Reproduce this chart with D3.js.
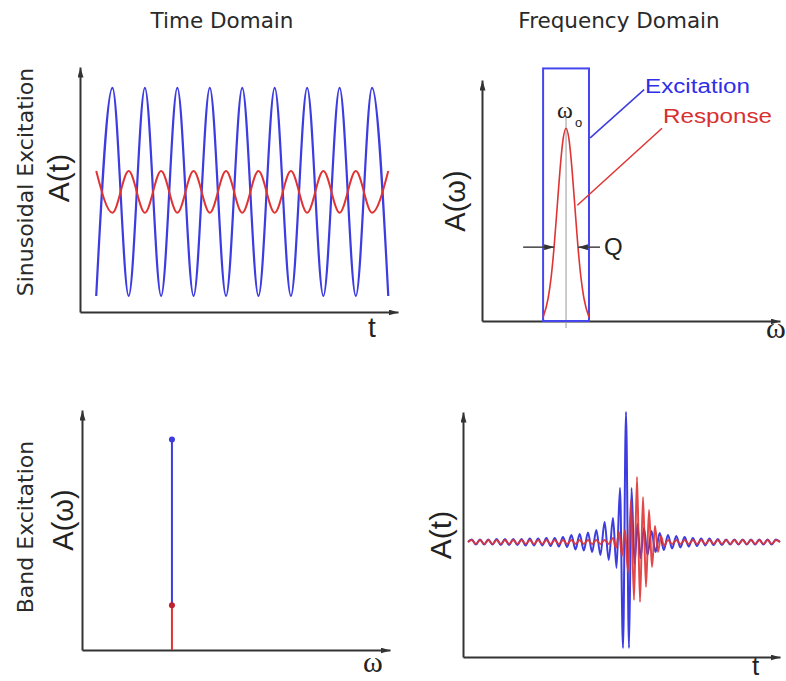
<!DOCTYPE html>
<html>
<head>
<meta charset="utf-8">
<script src="https://cdn.jsdelivr.net/npm/d3@7"></script>
<style>
  body { margin: 0; background: #fff; }
  svg { display: block; }
</style>
</head>
<body>
<script>
// ---- time domain, sinusoidal excitation (extrema)
var sineT    = [0.5, 1, 1.5, 2, 2.5, 3, 3.5, 4, 4.5, 5, 5.5, 6, 6.5, 7, 7.5, 8, 8.5, 9, 9.5];
var sineExc  = [-1, 1, -1, 1, -1, 1, -1, 1, -1, 1, -1, 1, -1, 1, -1, 1, -1, 1, -1];
var sineResp = [0.2, -0.2, 0.2, -0.2, 0.2, -0.2, 0.2, -0.2, 0.2, -0.2, 0.2, -0.2, 0.2, -0.2, 0.2, -0.2, 0.2, -0.2, 0.2];

// ---- frequency domain, sinusoidal excitation
var specOmega = [20.5, 22.2, 23.2, 24.2, 25.2, 26.2, 27.2, 28.2, 29.2, 30.2, 31.2, 32.2, 33.2, 34.2, 35.9];
var specResp  = [0.02, 0.118, 0.226, 0.386, 0.586, 0.788, 0.942, 1, 0.942, 0.788, 0.586, 0.386, 0.226, 0.118, 0.02];
var bandEdges = [20.5, 35.9];
var bandLevel = 1.31;
var omega0 = 28.2;
var qLevel = 0.383;
var qArrowLeft = [13.8, 24.2];
var qArrowRight = [39.6, 32.2];

// ---- band excitation, spectrum
var lineOmega = 29.2;
var lineExc = 1.0;
var lineResp = 0.213;

// ---- band excitation, time response (extrema)
var burstExcT = [5, 8.7, 12.9, 17, 21.2, 25.3, 29.5, 33.6, 37.8, 41.9, 46.1, 50.2, 54.4, 58.5, 62.7, 66.8,
  71, 75.1, 79.3, 83.4, 87.6, 91.7, 95.9, 100, 104.1, 108.4, 112.5, 116.7, 120.8, 125, 129.1, 133.3,
  137.4, 141.6, 145.7, 150, 153.5, 157, 160, 163, 166, 168.5, 171.5, 174.5, 177.5, 181, 184.5, 188.5,
  192.5, 196.7, 200.8, 205, 209.1, 213.3, 217.4, 221.6, 225.7, 229.9, 234, 238.2, 242.3, 246.5, 250.6,
  254.8, 258.9, 263.1, 267.2, 271.4, 275.5, 279.7, 283.8, 288, 292.1, 296.3, 300.4, 304.6, 308.7, 312.9, 317];
var burstExcA = [0, 2.5, -2.5, 2.5, -2.5, 2.5, -2.5, 3, -3, 3, -3, 3, -3, 3, -3.5, 3.5,
  -3.5, 3.5, -3.5, 4, -4, 4, -4.5, 5, -5, 7, -7.5, 8, -8.5, 9.5, -10, 12,
  -13, 20, -18, 24, -26, 54, -106, 130, -106, 54, -22, 18, -16, 14, -13, 11,
  -10, 9, -8, 7, -6.5, 6, -5.5, 5, -4.5, 4, -4, 3.5, -3.5, 3.5, -3,
  3, -3, 2.5, -2.5, 2.5, -2.5, 2.5, -2.5, 2.5, -2.5, 2.5, -2.5, 2.5, -2.5, 2.5, 0];
var burstRespT = [5, 8.7, 12.9, 17, 21.2, 25.3, 29.5, 33.6, 37.8, 41.9, 46.1, 50.2, 54.4, 58.5, 62.7, 66.8,
  71, 75.1, 79.3, 83.4, 87.6, 91.7, 95.9, 100, 104.1, 108.4, 112.5, 116.7, 120.8, 125, 129.1, 133.3,
  137.4, 141.6, 145.7, 150, 153, 156, 159, 162, 165, 168, 171, 174, 177, 180, 183, 186, 189, 192,
  195, 198, 201, 205, 209.1, 213.3, 217.4, 221.6, 225.7, 229.9, 234, 238.2, 242.3, 246.5, 250.6,
  254.8, 258.9, 263.1, 267.2, 271.4, 275.5, 279.7, 283.8, 288, 292.1, 296.3, 300.4, 304.6, 308.7, 312.9, 317];
var burstRespA = [0, 2, -2, 2, -2, 2, -2, 2, -2, 2, -2, 2, -2, 2, -2, 2,
  -2, 2, -2, 2, -2, 2, -2, 2, -2, 2, -2, 2, -2, 2, -2, 2,
  -2, 2, -2, 4, -6, 10, -14, 12, -30, 42, -58, 65, -60, 45, -45, 32, -25, 16,
  -10, 6, -4, 2, -2, 2, -2, 2, -2, 2, -2, 2, -2, 2, -2,
  2, -2, 2, -2, 2, -2, 2, -2, 2, -2, 2, -2, 2, -2, 2, 0];

var w = 786, h = 681;
var blue = "#3c3ce0", red = "#e03434", axis_color = "#333";
var sans = "'Liberation Sans', Arial, sans-serif";
var dejavu = "'DejaVu Sans', Verdana, sans-serif";
var serif = "'Liberation Serif', 'Times New Roman', serif";

var svg = d3.select("body").append("svg")
  .attr("width", w)
  .attr("height", h);

svg.append("defs").append("marker")
  .attr("id", "arrow")
  .attr("viewBox", "0 0 10 6")
  .attr("refX", 10).attr("refY", 3)
  .attr("markerWidth", 10).attr("markerHeight", 6)
  .attr("markerUnits", "userSpaceOnUse")
  .attr("orient", "auto")
  .append("path")
  .attr("d", "M0,0L10,3L0,6Z")
  .attr("fill", axis_color);

function zip(xs, ys) { return xs.map(function(v, i) { return [v, ys[i]]; }); }

// bare axes with an arrow at the end
function draw_axes(x, y) {
  svg.append("g")
    .attr("transform", "translate(0," + y.range()[0] + ")")
    .call(d3.axisBottom(x).tickValues([]).tickSizeOuter(0))
    .call(function(g) { g.select(".domain").attr("stroke", axis_color).attr("stroke-width", 2).attr("marker-end", "url(#arrow)"); });
  svg.append("g")
    .attr("transform", "translate(" + x.range()[0] + ",0)")
    .call(d3.axisLeft(y).tickValues([]).tickSizeOuter(0))
    .call(function(g) { g.select(".domain").attr("stroke", axis_color).attr("stroke-width", 2).attr("marker-end", "url(#arrow)"); });
}

function label(x, y, txt, size, family, opts) {
  opts = opts || {};
  var t = svg.append("text")
    .attr("font-family", family)
    .attr("font-size", size)
    .attr("fill", opts.fill || "#222")
    .attr("text-anchor", opts.anchor || "start")
    .text(txt);
  if (opts.rotate) t.attr("transform", "translate(" + x + "," + y + ") rotate(-90)");
  else t.attr("x", x).attr("y", y);
  if (opts.len) t.attr("textLength", opts.len).attr("lengthAdjust", "spacingAndGlyphs");
  return t;
}

// ---------- panel 1: sinusoidal, time domain
var x1 = d3.scaleLinear().domain([0, 9.8]).range([80, 398]);
var y1 = d3.scaleLinear().domain([-1.154, 1.2]).range([312, 67]);
draw_axes(x1, y1);
var line1 = d3.line().x(function(d) { return x1(d[0]); }).y(function(d) { return y1(d[1]); }).curve(d3.curveMonotoneX);
svg.append("path").attr("d", line1(zip(sineT, sineExc))).attr("fill", "none").attr("stroke", blue).attr("stroke-width", 2.2);
svg.append("path").attr("d", line1(zip(sineT, sineResp))).attr("fill", "none").attr("stroke", red).attr("stroke-width", 2);

// ---------- panel 2: sinusoidal, frequency domain
var x2 = d3.scaleLinear().domain([0, 100]).range([482, 780]);
var y2 = d3.scaleLinear().domain([0, 1.25]).range([321, 80]);
draw_axes(x2, y2);
svg.append("line")
  .attr("x1", x2(omega0)).attr("x2", x2(omega0))
  .attr("y1", y2(1.06)).attr("y2", y2(0) + 7)
  .attr("stroke", "#999").attr("stroke-width", 1);
svg.append("rect")
  .attr("x", x2(bandEdges[0])).attr("y", y2(bandLevel))
  .attr("width", x2(bandEdges[1]) - x2(bandEdges[0]))
  .attr("height", y2(0) - y2(bandLevel))
  .attr("fill", "none").attr("stroke", "#4646ee").attr("stroke-width", 2);
var line2 = d3.line().x(function(d) { return x2(d[0]); }).y(function(d) { return y2(d[1]); }).curve(d3.curveMonotoneX);
svg.append("path").attr("d", line2(zip(specOmega, specResp))).attr("fill", "none").attr("stroke", red).attr("stroke-width", 1.6);

// Q markers
[qArrowLeft, qArrowRight].forEach(function(a) {
  svg.append("line")
    .attr("x1", x2(a[0])).attr("x2", x2(a[1]))
    .attr("y1", y2(qLevel)).attr("y2", y2(qLevel))
    .attr("stroke", "#444").attr("stroke-width", 1.5)
    .attr("marker-end", "url(#arrow)");
});
// leader lines
svg.append("line")
  .attr("x1", x2(54.4)).attr("y1", y2(1.2)).attr("x2", x2(36.3)).attr("y2", y2(0.95))
  .attr("stroke", blue).attr("stroke-width", 1.5);
svg.append("line")
  .attr("x1", x2(60.4)).attr("y1", y2(1.0)).attr("x2", x2(32)).attr("y2", y2(0.6))
  .attr("stroke", red).attr("stroke-width", 1.5);

label(645, 93, "Excitation", 20, sans, { fill: "#2f2fe8", len: 105 });
label(663, 123, "Response", 21, sans, { fill: "#d83030", len: 109 });
label(604, 255, "Q", 24, sans);
label(557, 118, "ω", 24, serif);
label(575, 127, "o", 13, sans);

// ---------- panel 3: band excitation, spectrum
var x3 = d3.scaleLinear().domain([0, 100]).range([82, 390]);
var y3 = d3.scaleLinear().domain([0, 1.14]).range([650, 410]);
draw_axes(x3, y3);
svg.append("line")
  .attr("x1", x3(lineOmega)).attr("x2", x3(lineOmega))
  .attr("y1", y3(lineResp)).attr("y2", y3(lineExc))
  .attr("stroke", blue).attr("stroke-width", 2);
svg.append("line")
  .attr("x1", x3(lineOmega)).attr("x2", x3(lineOmega))
  .attr("y1", y3(0)).attr("y2", y3(lineResp))
  .attr("stroke", red).attr("stroke-width", 2);
svg.append("circle").attr("cx", x3(lineOmega)).attr("cy", y3(lineExc)).attr("r", 3).attr("fill", blue);
svg.append("circle").attr("cx", x3(lineOmega)).attr("cy", y3(lineResp)).attr("r", 3).attr("fill", "#c02030");

// ---------- panel 4: band excitation, time response
var x4 = d3.scaleLinear().domain([0, 317]).range([463, 780]);
var y4 = d3.scaleLinear().domain([-115, 130]).range([657, 412]);
draw_axes(x4, y4);
var line4 = d3.line().x(function(d) { return x4(d[0]); }).y(function(d) { return y4(d[1]); }).curve(d3.curveMonotoneX);
svg.append("path").attr("d", line4(zip(burstExcT, burstExcA))).attr("fill", "none").attr("stroke", blue).attr("stroke-width", 2);
svg.append("path").attr("d", line4(zip(burstRespT, burstRespA))).attr("fill", "none").attr("stroke", red).attr("stroke-width", 2).attr("stroke-opacity", 0.9);

// ---------- titles and axis labels
label(222, 28, "Time Domain", 21.5, dejavu, { anchor: "middle", fill: "#2a2a2a" });
label(619, 28, "Frequency Domain", 21.5, dejavu, { anchor: "middle", fill: "#2a2a2a" });
label(33, 182, "Sinusoidal Excitation", 22, dejavu, { anchor: "middle", rotate: true, fill: "#2a2a2a" });
label(33, 527, "Band Excitation", 22, dejavu, { anchor: "middle", rotate: true, fill: "#2a2a2a" });

label(69, 178, "A(t)", 30, sans, { anchor: "middle", rotate: true });
label(465, 201, "A(ω)", 29, sans, { anchor: "middle", rotate: true });
label(73, 520, "A(ω)", 29, sans, { anchor: "middle", rotate: true });
label(451, 535, "A(t)", 30, sans, { anchor: "middle", rotate: true });

label(368, 337, "t", 28, sans);
label(752, 675, "t", 26, sans);
label(766, 338, "ω", 30, serif);
label(363, 672, "ω", 30, serif);
</script>
</body>
</html>
